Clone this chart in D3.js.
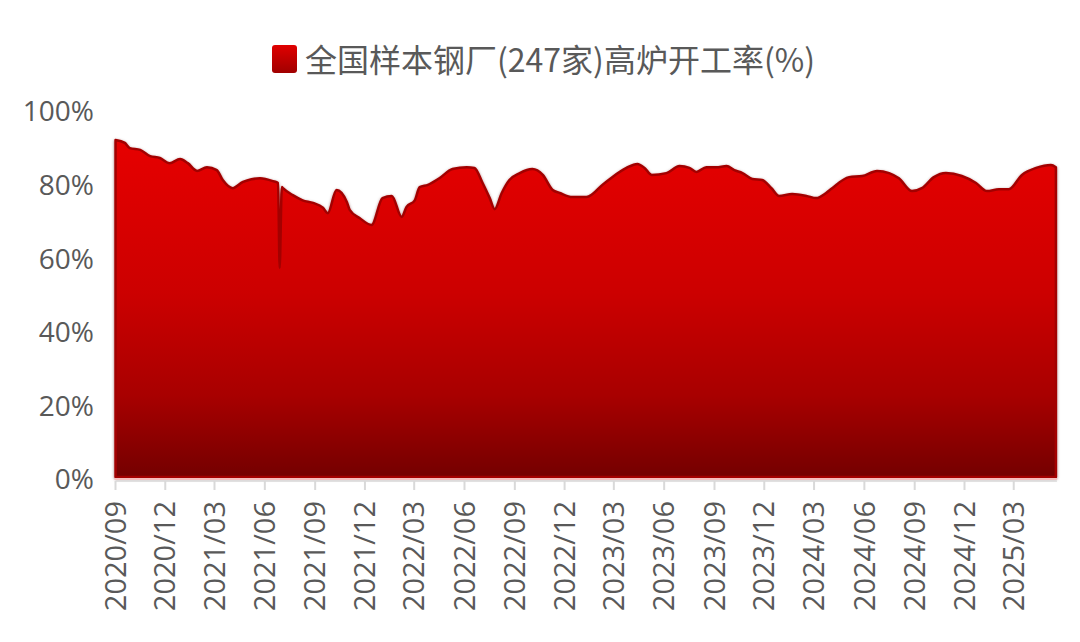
<!DOCTYPE html>
<html>
<head>
<meta charset="utf-8">
<script src="https://cdn.jsdelivr.net/npm/d3@7"></script>
<style>
  html, body { margin: 0; padding: 0; background: #fff; }
  svg { display: block; }
</style>
</head>
<body>
<svg id="chart"></svg>
<script>
const width = 1080
const height = 642

const title = '全国样本钢厂(247家)高炉开工率(%)'

// weekly readings
const dates = [
  '2020-09-02', '2020-09-19', '2020-09-28', '2020-10-17', '2020-11-04', '2020-11-22',
  '2020-12-10', '2020-12-29', '2021-01-12', '2021-01-29', '2021-02-16', '2021-03-06',
  '2021-03-17', '2021-04-04', '2021-04-23', '2021-05-24', '2021-06-17', '2021-06-26',
  '2021-06-29', '2021-07-03', '2021-07-05', '2021-07-23', '2021-08-10', '2021-08-29',
  '2021-09-16', '2021-09-25', '2021-10-11', '2021-10-30', '2021-11-04', '2021-11-22',
  '2021-12-14', '2022-01-03', '2022-01-20', '2022-02-07', '2022-02-16', '2022-03-03',
  '2022-03-12', '2022-03-27', '2022-04-17', '2022-05-11', '2022-06-06', '2022-06-20',
  '2022-07-05', '2022-07-18', '2022-07-27', '2022-08-09', '2022-08-23', '2022-09-11',
  '2022-10-04', '2022-10-23', '2022-11-10', '2022-11-23', '2022-12-16', '2023-01-11',
  '2023-01-22', '2023-02-09', '2023-02-27', '2023-03-25', '2023-04-14', '2023-04-27',
  '2023-05-10', '2023-06-06', '2023-06-30', '2023-07-18', '2023-07-31', '2023-08-18',
  '2023-09-05', '2023-09-24', '2023-10-08', '2023-10-23', '2023-11-10', '2023-11-28',
  '2023-12-15', '2023-12-29', '2024-01-22', '2024-02-17', '2024-03-06', '2024-03-24',
  '2024-04-04', '2024-05-05', '2024-05-29', '2024-06-25', '2024-07-17', '2024-08-04',
  '2024-08-28', '2024-09-15', '2024-10-07', '2024-10-29', '2024-11-27', '2024-12-23',
  '2025-01-12', '2025-02-03', '2025-02-21', '2025-03-17', '2025-04-12', '2025-05-09',
  '2025-05-18'
]

const values = [
  92.4, 91.6, 90.2, 89.7, 88.0, 87.5,
  86.1, 87.2, 86.1, 84.0, 85.0, 84.2,
  81.5, 79.3, 81.0, 82.0, 81.2, 80.7,
  57.6, 79.6, 79.3, 77.4, 76.0, 75.3,
  74.0, 72.5, 78.8, 75.5, 73.4, 71.2,
  69.3, 76.6, 77.2, 71.5, 74.2, 76.0,
  79.6, 80.2, 82.0, 84.5, 85.0, 84.8,
  80.7, 76.6, 73.6, 78.0, 81.5, 83.4,
  84.5, 82.9, 78.8, 78.0, 76.9, 76.9,
  77.7, 80.2, 82.3, 84.8, 85.9, 84.8,
  82.9, 83.4, 85.3, 84.8, 83.7, 85.0,
  85.0, 85.3, 84.2, 83.4, 81.8, 81.5,
  79.3, 77.2, 77.7, 77.2, 76.6, 78.0,
  79.3, 82.3, 82.6, 84.0, 83.4, 82.0,
  78.5, 79.3, 82.3, 83.4, 82.6, 80.7,
  78.5, 79.0, 79.0, 82.9, 84.8, 85.6,
  85.0
]

const yTicks = [0, 20, 40, 60, 80, 100]

const parse = d3.timeParse('%Y-%m-%d')
const data = dates.map((d, i) => ({ date: parse(d), value: values[i] }))

const svg = d3.select('#chart').attr('width', width).attr('height', height)

const x = d3
  .scaleTime()
  .domain([parse('2020-09-01'), parse('2025-05-31')])
  .range([115, 1063])

const y = d3.scaleLinear().domain([0, 100]).range([480, 112])

// quarterly ticks counted from the first month
const xTicks = d3.timeMonth.range(parse('2020-09-01'), parse('2025-05-31'), 3)

const defs = svg.append('defs')

const grad = defs
  .append('linearGradient')
  .attr('id', 'fillGrad')
  .attr('gradientUnits', 'userSpaceOnUse')
  .attr('x1', 0)
  .attr('x2', 0)
  .attr('y1', y(92))
  .attr('y2', y(0))
grad.append('stop').attr('offset', '0%').attr('stop-color', '#e60000')
grad.append('stop').attr('offset', '45%').attr('stop-color', '#cc0000')
grad.append('stop').attr('offset', '75%').attr('stop-color', '#a80000')
grad.append('stop').attr('offset', '100%').attr('stop-color', '#720000')

const legGrad = defs
  .append('linearGradient')
  .attr('id', 'legGrad')
  .attr('x1', 0)
  .attr('x2', 0)
  .attr('y1', 0)
  .attr('y2', 1)
legGrad.append('stop').attr('offset', '0%').attr('stop-color', '#e00000')
legGrad.append('stop').attr('offset', '100%').attr('stop-color', '#a00000')

const shadow = defs.append('filter').attr('id', 'shadow').attr('x', '-5%').attr('y', '-5%').attr('width', '110%').attr('height', '110%')
shadow
  .append('feDropShadow')
  .attr('dx', 0)
  .attr('dy', 1)
  .attr('stdDeviation', 1.5)
  .attr('flood-color', '#5a0000')
  .attr('flood-opacity', 0.55)

// y axis labels only, no line
const yAxis = d3
  .axisLeft(y)
  .tickValues(yTicks)
  .tickSize(0)
  .tickPadding(0)
  .tickFormat((d) => d + '%')

svg
  .append('g')
  .attr('transform', 'translate(94,0)')
  .call(yAxis)
  .call((g) => g.select('.domain').remove())
  .selectAll('text')
  .attr('font-family', '"Open Sans", sans-serif')
  .attr('font-size', 28)
  .attr('fill', '#595959')

// the area
const area = d3
  .area()
  .x((d) => x(d.date))
  .y0(y(0) - 3)
  .y1((d) => y(d.value))
  .curve(d3.curveMonotoneX)

svg
  .append('path')
  .datum(data)
  .attr('d', area)
  .attr('fill', 'url(#fillGrad)')
  .attr('stroke', '#a30000')
  .attr('stroke-width', 2.5)
  .attr('stroke-linejoin', 'round')
  .attr('filter', 'url(#shadow)')

// baseline highlight
svg
  .append('line')
  .attr('x1', x(data[0].date) - 1)
  .attr('x2', x(data[data.length - 1].date) + 1)
  .attr('y1', y(0) - 1)
  .attr('y2', y(0) - 1)
  .attr('stroke', '#f5bcbc')
  .attr('stroke-width', 2)

// x axis
const xAxis = d3
  .axisBottom(x)
  .tickValues(xTicks)
  .tickFormat(d3.timeFormat('%Y/%m'))
  .tickSize(9)

const gx = svg
  .append('g')
  .attr('transform', `translate(0,${y(0) + 1})`)
  .call(xAxis)

gx.select('.domain')
  .attr('stroke', '#d9d9d9')
  .attr('stroke-width', 1.5)
  .attr('d', `M${x(data[0].date)},0H${x(data[data.length - 1].date) + 1}`)
gx.selectAll('.tick line').attr('stroke', '#d9d9d9').attr('stroke-width', 2)
gx.selectAll('.tick text')
  .attr('font-family', '"Open Sans", sans-serif')
  .attr('font-size', 29)
  .attr('fill', '#595959')
  .attr('text-anchor', 'end')
  .attr('dy', '0.35em')
  .attr('transform', 'translate(0,20) rotate(-90)')
  .attr('x', 0)
  .attr('y', 0)

// legend / title
const legend = svg.append('g').attr('transform', 'translate(272,45)')
legend
  .append('rect')
  .attr('width', 25)
  .attr('height', 28)
  .attr('rx', 3)
  .attr('fill', 'url(#legGrad)')
legend
  .append('text')
  .attr('x', 33)
  .attr('y', 27)
  .attr('font-family', '"Noto Sans CJK SC", sans-serif')
  .attr('font-size', 32)
  .attr('fill', '#595959')
  .text(title)
</script>
</body>
</html>
